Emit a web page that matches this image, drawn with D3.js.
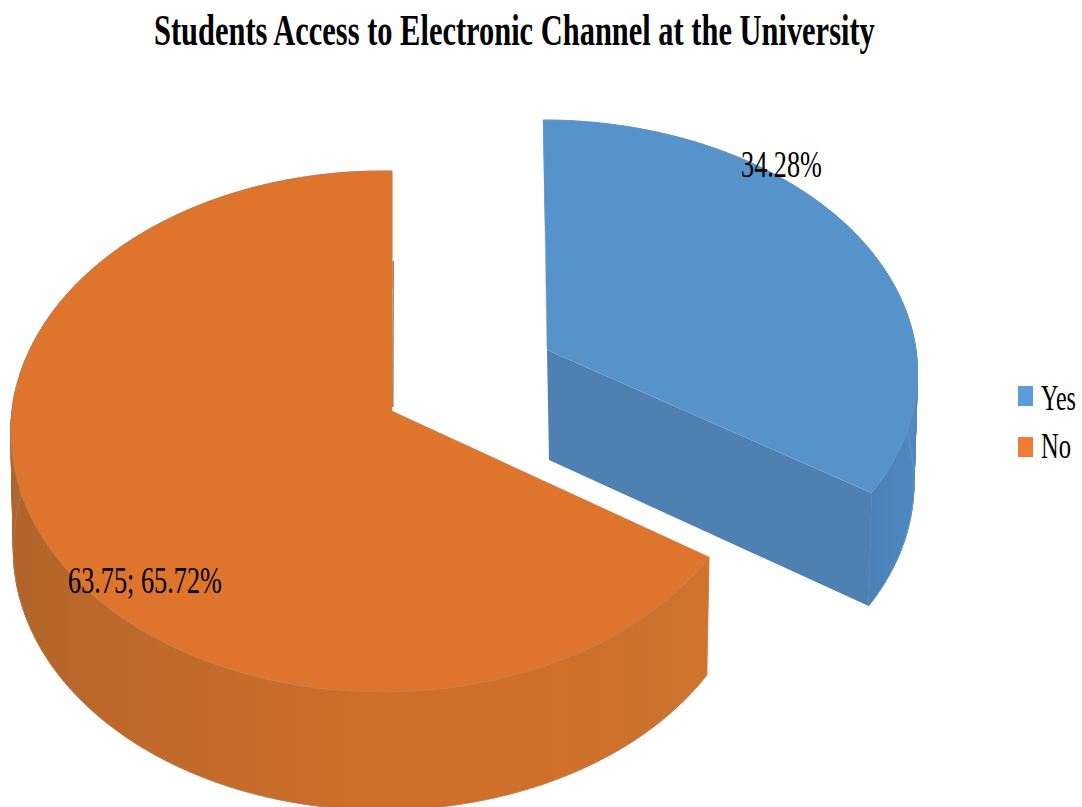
<!DOCTYPE html>
<html>
<head>
<meta charset="utf-8">
<script src="https://cdn.jsdelivr.net/npm/d3@7/dist/d3.min.js"></script>
<style>
html,body{margin:0;padding:0;background:#fff;}
svg{display:block;}
text{font-family:"Liberation Serif",serif;fill:#000;}
</style>
</head>
<body>
<svg id="chart" width="1082" height="807"></svg>
<script>
const chartTitle = "Students Access to Electronic Channel at the University";
const categories = ["Yes", "No"];
const shares = [34.28, 65.72];
const sliceLabels = ["34.28%", "63.75; 65.72%"];
const legendColors = ["#5B9BD5", "#ED7D31"];

const svg = d3.select("#chart");
const defs = svg.append("defs");

function gradient(id, x1, x2, stops) {
  const g = defs.append("linearGradient").attr("id", id)
    .attr("gradientUnits", "userSpaceOnUse")
    .attr("x1", x1).attr("x2", x2).attr("y1", 0).attr("y2", 0);
  stops.forEach(([o, c]) => g.append("stop").attr("offset", o).attr("stop-color", c));
}
gradient("wallNo", 14, 707, [[0, "#B0642A"], [0.12, "#BC682A"], [0.3, "#C56B2A"],
  [0.55, "#CF6E29"], [0.8, "#D0702A"], [0.92, "#CB722E"], [1, "#D0742D"]]);
gradient("wallYes", 868, 912, [[0, "#4A80B6"], [1, "#4F88C1"]]);

// Each slice keeps the vertical perspective of the tilted disc; the "Yes" slice is pulled out.
const views = {
  Yes: {cx: 547, cy: 350, a: 248.4, b: 369, skew: 4, k: -0.08, m: 0,
        wallDx: 2, wallDy: 110, wallSx: 0.985, wallSy: 1.02,
        top: "#5793CB", cut: "#4E80B2", edge: "#7f9dbb", wall: "url(#wallYes)"},
  No:  {cx: 392, cy: 411, a: 258.9, b: 371, skew: 0, k: -0.0787, m: 0.024,
        wallDx: 0, wallDy: 118, wallSx: 0.993, wallSy: 1,
        top: "#DF752C", cut: "#C96C2B", edge: "#a08a78", wall: "url(#wallNo)"}
};

const pie = d3.pie().sort(null).value(d => d.value);
const slices = pie(categories.map((name, i) => ({name, value: shares[i]})));

// Projects a disc position (angle clockwise from north, radius fraction) to the screen.
function topPoint(view, angle, r = 1) {
  const u = Math.sin(angle) * r, v = -Math.cos(angle) * r;
  const den = 1 + view.k * v + view.m * u;
  return [view.cx + (view.b * u + view.skew * v) / den, view.cy + view.a * v / den];
}
function floorPoint(view, p) {
  return [view.cx + view.wallDx + (p[0] - view.cx) * view.wallSx,
          view.cy + view.wallDy + (p[1] - view.cy) * view.wallSy];
}
const line = d3.line();

const order = [slices[1], slices[0]];
const pieces = svg.append("g").selectAll("g").data(order).join("g");

pieces.each(function (s) {
  const view = views[s.data.name];
  const g = d3.select(this);
  const count = 240;
  const steps = d3.range(0, count + 1).map(i => s.startAngle + (s.endAngle - s.startAngle) * i / count);
  const rim = steps.map(a => topPoint(view, a));
  const floor = rim.map(p => floorPoint(view, p));

  // outer wall, swept in narrow upright bands so the silhouette joins rim and floor
  const bands = d3.range(0, count).map(i => [rim[i], rim[i + 1], floor[i + 1], floor[i]]);
  const sweep = bands.map(d => line(d) + "Z").join("");
  g.append("path").attr("d", sweep)
    .attr("fill", view.wall).attr("stroke", view.wall).attr("stroke-width", 0.8);
  g.append("path").attr("d", line(floor))
    .attr("fill", "none").attr("stroke", view.edge).attr("stroke-width", 1).attr("stroke-opacity", 0.5);

  // flat cut face, only visible on the slice pulled towards the viewer
  if (s.data.name === "Yes") {
    const apex = [view.cx, view.cy];
    const end = rim[rim.length - 1];
    g.append("path")
      .attr("d", line([apex, end, floorPoint(view, end), floorPoint(view, apex)]) + "Z")
      .attr("fill", view.cut);
  } else {
    // thin sliver of the far cut face along the vertical edge
    g.append("path")
      .attr("d", line([[view.cx + 0.8, view.cy - 4], [view.cx + 1.2, view.cy - 150]]))
      .attr("fill", "none").attr("stroke", "#B5692E").attr("stroke-width", 1.4);
  }

  // top face
  g.append("path").attr("d", line([[view.cx, view.cy], ...rim]) + "Z")
    .attr("fill", view.top).attr("stroke", view.edge).attr("stroke-width", 1).attr("stroke-opacity", 0.45);
});

// Places text so that it spans a given width, narrowing the glyphs horizontally.
function fitText(sel, x, y, width) {
  sel.each(function (d, i) {
    const natural = this.getComputedTextLength();
    const w = typeof width === "function" ? width(d, i) : width;
    const px = typeof x === "function" ? x(d, i) : x;
    const py = typeof y === "function" ? y(d, i) : y;
    d3.select(this).attr("transform", `translate(${px},${py}) scale(${w / natural},1)`);
  });
}

svg.append("text")
  .attr("font-size", 44).attr("font-weight", "bold")
  .text(chartTitle)
  .call(fitText, 154, 45, 721);

const labelSpots = [
  {x: 741, y: 177, w: 81},
  {x: 68, y: 593, w: 154}
];
svg.append("g").selectAll("text").data(sliceLabels).join("text")
  .attr("font-size", 37)
  .text(d => d)
  .call(fitText, (d, i) => labelSpots[i].x, (d, i) => labelSpots[i].y, (d, i) => labelSpots[i].w);

const legendY = d3.scalePoint().domain(categories).range([396, 447]);
const legendBase = d3.scalePoint().domain(categories).range([410, 458]);
const legend = svg.append("g").selectAll("g").data(categories).join("g");
legend.append("rect")
  .attr("x", 1018).attr("y", d => legendY(d) - 10)
  .attr("width", 15).attr("height", 20)
  .attr("fill", (d, i) => legendColors[i]);
legend.append("text")
  .attr("font-size", 35)
  .text(d => d)
  .call(fitText, 1041, d => legendBase(d), (d, i) => [35, 30][i]);
</script>
</body>
</html>
